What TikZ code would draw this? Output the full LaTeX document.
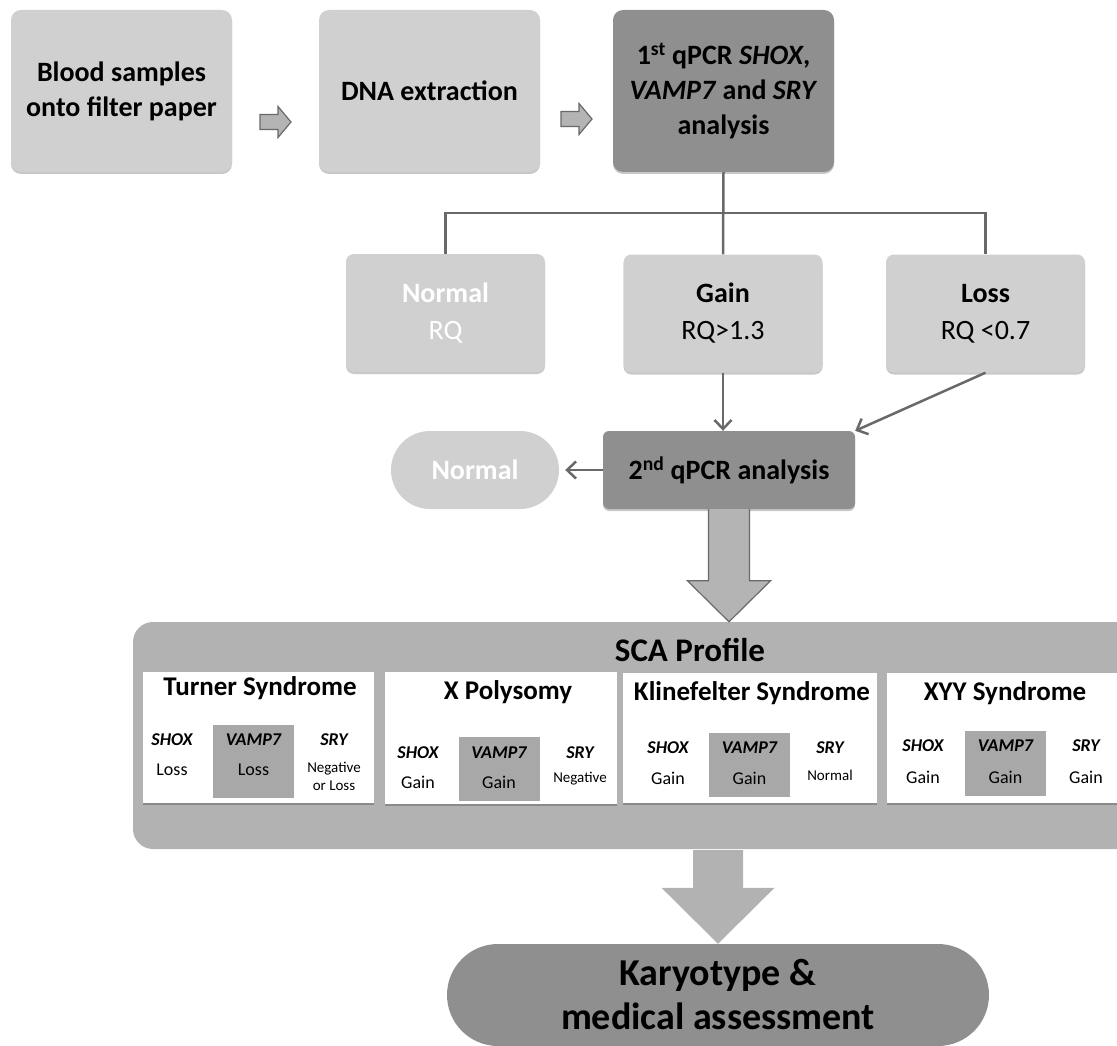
\documentclass[tikz,border=0pt]{standalone}
\usepackage{fontspec}
\setmainfont{Carlito}
\usetikzlibrary{positioning,calc,arrows.meta,shadows}

\definecolor{boxlight}{RGB}{208,208,208}
\definecolor{boxdark}{RGB}{143,143,143}
\definecolor{panelgray}{RGB}{178,178,178}
\definecolor{vampgray}{RGB}{168,168,168}
\definecolor{linegray}{RGB}{105,105,105}
\definecolor{arrowgray}{RGB}{180,180,180}

\tikzset{
  softshadow/.style={drop shadow={shadow xshift=0pt,shadow yshift=-2pt,opacity=.22,fill=black}},
  lightbox/.style={rounded corners=10pt, fill=boxlight, softshadow, minimum width=221pt, minimum height=162pt, align=center, font=\fontsize{28}{35}\selectfont\bfseries},
  darkbox/.style={lightbox, fill=boxdark},
  rqbox/.style={rounded corners=8pt, fill=boxlight, softshadow, minimum width=199pt, minimum height=118pt, align=center, font=\fontsize{28}{37}\selectfont},
  stadium/.style={fill=boxlight, minimum width=168pt, minimum height=78pt, rounded corners=39pt, font=\fontsize{28}{34}\selectfont\bfseries},
  casebox/.style={fill=white, softshadow},
  casetitle/.style={font=\fontsize{27}{30}\selectfont\bfseries},
  vampbox/.style={fill=vampgray, minimum width=81pt},
  genename/.style={font=\fontsize{18}{20}\selectfont\bfseries\itshape},
  geneval/.style={font=\fontsize{18}{20}\selectfont},
  smallval/.style={font=\fontsize{15}{18}\selectfont, align=center},
  link/.style={draw=linegray, line width=2.5pt},
  tip/.style={-{Straight Barb[length=9pt,width=17pt,line width=2.5pt]}},
  blockarrow/.style={fill=arrowgray, draw=linegray, line width=1.2pt, line join=miter}
}

\begin{document}
\begin{tikzpicture}[x=1pt,y=-1pt]
    \clip (0,0) rectangle (1117,1046);

    % first row
    \node[lightbox] (blood) at (121.5,91) {Blood samples\\onto filter paper};
    \node[lightbox] (dna) at (429.5,91) {DNA extraction};
    \node[darkbox] (qpcr1) at (723.5,91) {1\textsuperscript{st} qPCR \textit{SHOX},\\\textit{VAMP7} and \textit{SRY}\\analysis};

    \coordinate (arrA) at ($(blood.east)!0.5!(dna.west)+(0,31)$);
    \coordinate (arrB) at ($(dna.east)!0.5!(qpcr1.west)+(0,28)$);
    \draw[blockarrow] ($(arrA)+(-15.5,-7.5)$) -- ++(18,0) -- ++(0,-8) -- ($(arrA)+(15.5,0)$) -- ($(arrA)+(2.5,15.5)$) -- ++(0,-8) -- ($(arrA)+(-15.5,7.5)$) -- cycle;
    \draw[blockarrow] ($(arrB)+(-15.5,-7.5)$) -- ++(18,0) -- ++(0,-8) -- ($(arrB)+(15.5,0)$) -- ($(arrB)+(2.5,15.5)$) -- ++(0,-8) -- ($(arrB)+(-15.5,7.5)$) -- cycle;

    % RQ results
    \node[rqbox, text=white] (normrq) at (445.5,313) {\textbf{Normal}\\RQ};
    \node[rqbox] (gain) at (723,313.5) {\textbf{Gain}\\RQ>1.3};
    \node[rqbox] (loss) at (985.5,313.5) {\textbf{Loss}\\RQ <0.7};

    \coordinate (splitrow) at (0,213);
    \coordinate (split) at (qpcr1.south |- splitrow);
    \draw[link] (qpcr1.south) -- (gain.north);
    \draw[link] (normrq.north) |- (split) -| (loss.north);

    % second qPCR
    \node[darkbox, minimum width=252pt, minimum height=78pt, rounded corners=6pt] (qpcr2) at (729,470) {2\textsuperscript{nd} qPCR analysis};
    \node[stadium, text=white] (normal) at (475,470) {Normal};

    \draw[link, tip] (gain.south) -- (gain.south |- qpcr2.north);
    \draw[link, tip] (loss.south) -- (qpcr2.north east);
    \draw[link, tip, shorten >=6pt] (qpcr2.west) -- (normal.east);

    % SCA profile
    \node[fill=panelgray, rounded corners=20pt, minimum width=1008pt, minimum height=227pt] (sca) at (637,735.5) {};
    \node[font=\fontsize{33}{36}\selectfont\bfseries] (scatitle) at (690,650) {SCA Profile};

    \coordinate (tipA) at (qpcr2.south |- sca.north);
    \draw[blockarrow] ($(qpcr2.south)+(-20.5,0)$) -- ($(tipA)+(-20.5,-41)$) -- ($(tipA)+(-41.5,-41)$) -- (tipA) -- ($(tipA)+(41.5,-41)$) -- ($(tipA)+(20.5,-41)$) -- ($(qpcr2.south)+(20.5,0)$);

    % Turner
    \node[casebox, minimum width=231pt, minimum height=131pt] (turner) at (258.5,737.5) {};
    \node[casetitle] (turnertitle) at (260,688) {Turner Syndrome};
    \node[vampbox, minimum height=73pt] (turnerbox) at (253.5,761.5) {};
    \node[genename] (tshox) at (172,740) {SHOX};
    \node[geneval] (tshoxv) at (172,770) {Loss};
    \node[genename] (tvamp) at (253.5,740) {VAMP7};
    \node[geneval] (tvampv) at (253.5,770) {Loss};
    \node[genename] (tsry) at (334,740) {SRY};
    \node[smallval] (tsryv) at (334,776) {Negative\\or Loss};

    % X polysomy
    \node[casebox, minimum width=232pt, minimum height=132pt] (xpoly) at (501,738) {};
    \node[casetitle] (xpolytitle) at (508,692) {X Polysomy};
    \node[vampbox, minimum height=64pt] (xpolybox) at (499,769) {};
    \node[genename] (xshox) at (418,753) {SHOX};
    \node[geneval] (xshoxv) at (418,782) {Gain};
    \node[genename] (xvamp) at (499,753) {VAMP7};
    \node[geneval] (xvampv) at (499,782) {Gain};
    \node[genename] (xsry) at (580,753) {SRY};
    \node[smallval] (xsryv) at (580,779) {Negative};

    % Klinefelter
    \node[casebox, minimum width=254pt, minimum height=130pt] (kline) at (750,737.5) {};
    \node[casetitle] (klinetitle) at (752,693) {Klinefelter Syndrome};
    \node[vampbox, minimum height=64pt] (klinebox) at (749.5,765) {};
    \node[genename] (kshox) at (668,748) {SHOX};
    \node[geneval] (kshoxv) at (668,778) {Gain};
    \node[genename] (kvamp) at (749.5,748) {VAMP7};
    \node[geneval] (kvampv) at (749.5,778) {Gain};
    \node[genename] (ksry) at (830,748) {SRY};
    \node[smallval] (ksryv) at (830,775) {Normal};

    % XYY
    \node[casebox, minimum width=232pt, minimum height=130pt] (xyy) at (1003,737.5) {};
    \node[casetitle] (xyytitle) at (1005,693) {XYY Syndrome};
    \node[vampbox, minimum height=65pt] (xyybox) at (1005.5,763.5) {};
    \node[genename] (yshox) at (923,746) {SHOX};
    \node[geneval] (yshoxv) at (923,777) {Gain};
    \node[genename] (yvamp) at (1005.5,746) {VAMP7};
    \node[geneval] (yvampv) at (1005.5,777) {Gain};
    \node[genename] (ysry) at (1086,746) {SRY};
    \node[geneval] (ysryv) at (1086,777) {Gain};

    % final step
    \node[fill=boxdark, minimum width=542pt, minimum height=102pt, rounded corners=51pt, align=center, font=\fontsize{38}{44}\selectfont\bfseries] (karyo) at (718,995) {Karyotype \&\\medical assessment};

    \coordinate (tipB) at (karyo.north);
    \fill[panelgray] ($(karyo.north |- sca.south)+(-25,1)$) -- ($(tipB)+(-25,-56)$) -- ($(tipB)+(-56.5,-56)$) -- (tipB) -- ($(tipB)+(56.5,-56)$) -- ($(tipB)+(25,-56)$) -- ($(karyo.north |- sca.south)+(25,1)$) -- cycle;
\end{tikzpicture}
\end{document}
